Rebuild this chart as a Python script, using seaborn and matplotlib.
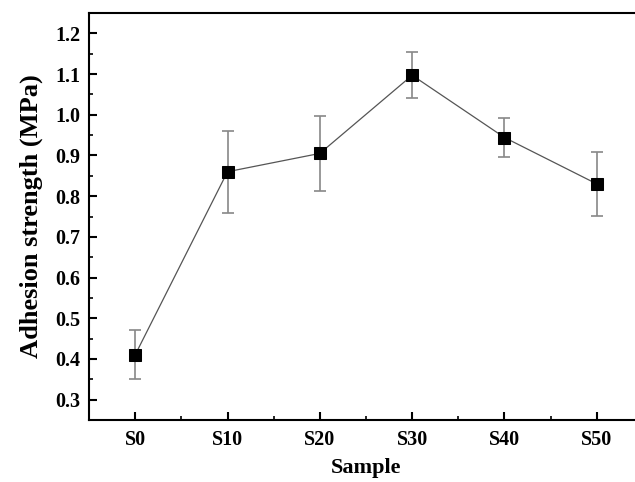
import matplotlib
matplotlib.use("Agg")
import matplotlib.pyplot as plt
import seaborn as sns
import pandas as pd
import numpy as np
from matplotlib.ticker import MultipleLocator

samples = ["S0", "S10", "S20", "S30", "S40", "S50"]
strength = [0.41, 0.86, 0.905, 1.097, 0.944, 0.830]
errors = [0.06, 0.101, 0.092, 0.057, 0.047, 0.078]

sns.set_theme(style="ticks")
plt.rcParams['font.family'] = ['Liberation Serif', 'DejaVu Serif']
plt.rcParams['font.weight'] = 'bold'
plt.rcParams['text.color'] = 'black'
plt.rcParams['axes.labelcolor'] = 'black'

df = pd.DataFrame({"Sample": samples, "Strength": strength, "Err": errors})
df["pos"] = np.arange(len(samples))

fig = plt.figure(figsize=(6.35, 4.82), dpi=100)
ax = fig.add_axes([89/635, 1 - 420/482, (643 - 89)/635, (420 - 13)/482])

ax.errorbar(df["pos"], df["Strength"], yerr=df["Err"], fmt="none",
            ecolor="#888888", elinewidth=1.2, capsize=4, capthick=1.2, zorder=2)
sns.lineplot(data=df, x="pos", y="Strength", ax=ax, color="#555555",
             linewidth=0.9, marker="s", markersize=8, markerfacecolor="black",
             markeredgecolor="black", zorder=3)

ax.set_xlim(-0.5, 5.5)
ax.set_ylim(0.25, 1.25)
ax.set_xticks(df["pos"])
ax.set_xticklabels(samples)
ax.xaxis.set_minor_locator(MultipleLocator(0.5))
ax.yaxis.set_minor_locator(MultipleLocator(0.05))
yt = np.round(np.arange(0.3, 1.21, 0.1), 1)
ax.set_yticks(yt)
ax.set_yticklabels([f"{v:.1f}" for v in yt])

ax.tick_params(axis="both", which="major", direction="in", length=6, width=1.5,
               labelsize=14.5, colors="black")
ax.tick_params(axis="y", which="major", pad=6)
ax.tick_params(axis="x", which="major", pad=7)
ax.tick_params(axis="both", which="minor", direction="in", length=3, width=1.2, colors="black")
for lab in ax.get_xticklabels() + ax.get_yticklabels():
    lab.set_fontweight("bold")
    lab.set_color("black")
for s in ax.spines.values():
    s.set_linewidth(1.5)
    s.set_color("black")

ax.set_xlabel("Sample", fontsize=16, fontweight="bold", labelpad=6, color="black")
ax.set_ylabel("Adhesion strength (MPa)", fontsize=19, fontweight="bold", labelpad=9, color="black")

fig.savefig("out.png", dpi=100)
